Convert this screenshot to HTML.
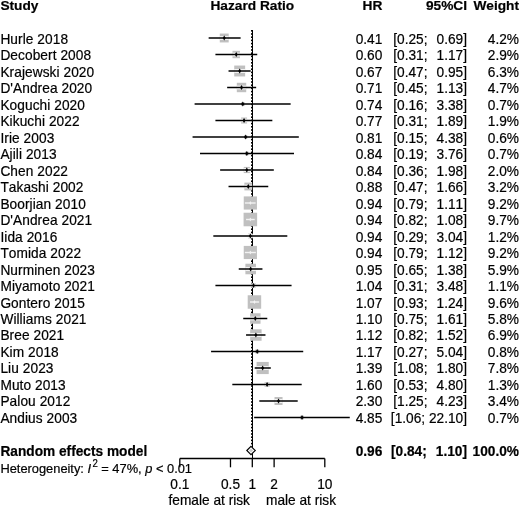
<!DOCTYPE html>
<html><head><meta charset="utf-8"><style>
html,body{margin:0;padding:0;background:#fff;overflow:hidden;}
svg{display:block;will-change:transform;}
text{stroke:#000;stroke-width:0.2px;font-family:"Liberation Sans",sans-serif;font-size:13.7px;fill:#000;white-space:pre;font-kerning:none;font-feature-settings:"kern" 0,"liga" 0;}
.b{font-weight:bold;}
</style></head><body>
<svg width="520" height="506" viewBox="0 0 520 506">
<text class="b" transform="translate(0.40 10.10) scale(1 1.0)">Study</text>
<text class="b" text-anchor="middle" transform="translate(252.30 10.10) scale(1 1.0)">Hazard Ratio</text>
<text class="b" text-anchor="end" transform="translate(382.30 10.10) scale(1 1.0)">HR</text>
<text class="b" text-anchor="end" transform="translate(467.00 10.10) scale(1 1.0)">95%CI</text>
<text class="b" text-anchor="end" transform="translate(519.00 10.10) scale(1 1.0)">Weight</text>
<line x1="252.5" y1="30.0" x2="252.5" y2="458.5" stroke="#000" stroke-width="1"/>
<line x1="251.5" y1="30.0" x2="251.5" y2="446" stroke="#000" stroke-width="1" stroke-dasharray="1.6 1.6"/>
<text transform="translate(0.40 44.00) scale(1 1.06)" letter-spacing="0.07">Hurle 2018</text>
<rect x="219.77" y="33.54" width="8.91" height="8.91" fill="#c0c0c0"/>
<rect x="219.77" y="36.20" width="8.91" height="3.6" fill="#fff"/>
<line x1="208.65" y1="38.0" x2="240.62" y2="38.0" stroke="#000" stroke-width="1.5"/>
<path d="M224.23 35.50 L225.73 38.0 L224.23 40.50 L222.73 38.0 Z" fill="#000"/>
<text text-anchor="end" transform="translate(382.30 44.00) scale(1 1.06)">0.41</text>
<text text-anchor="end" transform="translate(467.00 44.00) scale(1 1.06)">[0.25;  <tspan dx="1.4">0.69]</tspan></text>
<text text-anchor="end" transform="translate(519.00 44.00) scale(1 1.06)">4.2%</text>
<text transform="translate(0.40 60.47) scale(1 1.06)" letter-spacing="0.07">Decobert 2008</text>
<rect x="232.51" y="50.80" width="7.41" height="7.41" fill="#c0c0c0"/>
<rect x="232.51" y="52.70" width="7.41" height="3.6" fill="#fff"/>
<line x1="215.42" y1="54.5" x2="257.24" y2="54.5" stroke="#000" stroke-width="1.5"/>
<path d="M236.22 52.00 L237.72 54.5 L236.22 57.00 L234.72 54.5 Z" fill="#000"/>
<text text-anchor="end" transform="translate(382.30 60.47) scale(1 1.06)">0.60</text>
<text text-anchor="end" transform="translate(467.00 60.47) scale(1 1.06)">[0.31;  <tspan dx="1.4">1.17]</tspan></text>
<text text-anchor="end" transform="translate(519.00 60.47) scale(1 1.06)">2.9%</text>
<text transform="translate(0.40 76.94) scale(1 1.06)" letter-spacing="0.07">Krajewski 2020</text>
<rect x="234.23" y="65.54" width="10.92" height="10.92" fill="#c0c0c0"/>
<rect x="234.23" y="69.20" width="10.92" height="3.6" fill="#fff"/>
<line x1="228.53" y1="71.0" x2="250.68" y2="71.0" stroke="#000" stroke-width="1.5"/>
<path d="M239.69 68.50 L241.19 71.0 L239.69 73.50 L238.19 71.0 Z" fill="#000"/>
<text text-anchor="end" transform="translate(382.30 76.94) scale(1 1.06)">0.67</text>
<text text-anchor="end" transform="translate(467.00 76.94) scale(1 1.06)">[0.47;  <tspan dx="1.4">0.95]</tspan></text>
<text text-anchor="end" transform="translate(519.00 76.94) scale(1 1.06)">6.3%</text>
<text transform="translate(0.40 93.41) scale(1 1.06)" letter-spacing="0.07">D&#39;Andrea 2020</text>
<rect x="236.80" y="82.78" width="9.43" height="9.43" fill="#c0c0c0"/>
<rect x="236.80" y="85.70" width="9.43" height="3.6" fill="#fff"/>
<line x1="227.16" y1="87.5" x2="256.15" y2="87.5" stroke="#000" stroke-width="1.5"/>
<path d="M241.52 85.00 L243.02 87.5 L241.52 90.00 L240.02 87.5 Z" fill="#000"/>
<text text-anchor="end" transform="translate(382.30 93.41) scale(1 1.06)">0.71</text>
<text text-anchor="end" transform="translate(467.00 93.41) scale(1 1.06)">[0.45;  <tspan dx="1.4">1.13]</tspan></text>
<text text-anchor="end" transform="translate(519.00 93.41) scale(1 1.06)">4.7%</text>
<text transform="translate(0.40 109.88) scale(1 1.06)" letter-spacing="0.07">Koguchi 2020</text>
<rect x="241.00" y="102.18" width="3.64" height="3.64" fill="#c0c0c0"/>
<line x1="194.60" y1="104.0" x2="290.65" y2="104.0" stroke="#000" stroke-width="1.5"/>
<path d="M242.82 101.50 L244.32 104.0 L242.82 106.50 L241.32 104.0 Z" fill="#000"/>
<text text-anchor="end" transform="translate(382.30 109.88) scale(1 1.06)">0.74</text>
<text text-anchor="end" transform="translate(467.00 109.88) scale(1 1.06)">[0.16;  <tspan dx="1.4">3.38]</tspan></text>
<text text-anchor="end" transform="translate(519.00 109.88) scale(1 1.06)">0.7%</text>
<text transform="translate(0.40 126.35) scale(1 1.06)" letter-spacing="0.07">Kikuchi 2022</text>
<rect x="241.07" y="117.50" width="6.00" height="6.00" fill="#c0c0c0"/>
<rect x="241.07" y="118.70" width="6.00" height="3.6" fill="#fff"/>
<line x1="215.42" y1="120.5" x2="272.34" y2="120.5" stroke="#000" stroke-width="1.5"/>
<path d="M244.07 118.00 L245.57 120.5 L244.07 123.00 L242.57 120.5 Z" fill="#000"/>
<text text-anchor="end" transform="translate(382.30 126.35) scale(1 1.06)">0.77</text>
<text text-anchor="end" transform="translate(467.00 126.35) scale(1 1.06)">[0.31;  <tspan dx="1.4">1.89]</tspan></text>
<text text-anchor="end" transform="translate(519.00 126.35) scale(1 1.06)">1.9%</text>
<text transform="translate(0.40 142.82) scale(1 1.06)" letter-spacing="0.07">Irie 2003</text>
<rect x="243.98" y="135.32" width="3.37" height="3.37" fill="#c0c0c0"/>
<line x1="192.57" y1="137.0" x2="298.81" y2="137.0" stroke="#000" stroke-width="1.5"/>
<path d="M245.67 134.50 L247.17 137.0 L245.67 139.50 L244.17 137.0 Z" fill="#000"/>
<text text-anchor="end" transform="translate(382.30 142.82) scale(1 1.06)">0.81</text>
<text text-anchor="end" transform="translate(467.00 142.82) scale(1 1.06)">[0.15;  <tspan dx="1.4">4.38]</tspan></text>
<text text-anchor="end" transform="translate(519.00 142.82) scale(1 1.06)">0.6%</text>
<text transform="translate(0.40 159.29) scale(1 1.06)" letter-spacing="0.07">Ajili 2013</text>
<rect x="244.99" y="151.68" width="3.64" height="3.64" fill="#c0c0c0"/>
<line x1="200.01" y1="153.5" x2="294.00" y2="153.5" stroke="#000" stroke-width="1.5"/>
<path d="M246.81 151.00 L248.31 153.5 L246.81 156.00 L245.31 153.5 Z" fill="#000"/>
<text text-anchor="end" transform="translate(382.30 159.29) scale(1 1.06)">0.84</text>
<text text-anchor="end" transform="translate(467.00 159.29) scale(1 1.06)">[0.19;  <tspan dx="1.4">3.76]</tspan></text>
<text text-anchor="end" transform="translate(519.00 159.29) scale(1 1.06)">0.7%</text>
<text transform="translate(0.40 175.76) scale(1 1.06)" letter-spacing="0.07">Chen 2022</text>
<rect x="243.73" y="166.92" width="6.15" height="6.15" fill="#c0c0c0"/>
<rect x="243.73" y="168.20" width="6.15" height="3.6" fill="#fff"/>
<line x1="220.13" y1="170.0" x2="273.81" y2="170.0" stroke="#000" stroke-width="1.5"/>
<path d="M246.81 167.50 L248.31 170.0 L246.81 172.50 L245.31 170.0 Z" fill="#000"/>
<text text-anchor="end" transform="translate(382.30 175.76) scale(1 1.06)">0.84</text>
<text text-anchor="end" transform="translate(467.00 175.76) scale(1 1.06)">[0.36;  <tspan dx="1.4">1.98]</tspan></text>
<text text-anchor="end" transform="translate(519.00 175.76) scale(1 1.06)">2.0%</text>
<text transform="translate(0.40 192.23) scale(1 1.06)" letter-spacing="0.07">Takashi 2002</text>
<rect x="244.38" y="182.61" width="7.78" height="7.78" fill="#c0c0c0"/>
<rect x="244.38" y="184.70" width="7.78" height="3.6" fill="#fff"/>
<line x1="228.53" y1="186.5" x2="268.26" y2="186.5" stroke="#000" stroke-width="1.5"/>
<path d="M248.27 184.00 L249.77 186.5 L248.27 189.00 L246.77 186.5 Z" fill="#000"/>
<text text-anchor="end" transform="translate(382.30 192.23) scale(1 1.06)">0.88</text>
<text text-anchor="end" transform="translate(467.00 192.23) scale(1 1.06)">[0.47;  <tspan dx="1.4">1.66]</tspan></text>
<text text-anchor="end" transform="translate(519.00 192.23) scale(1 1.06)">3.2%</text>
<text transform="translate(0.40 208.70) scale(1 1.06)" letter-spacing="0.07">Boorjian 2010</text>
<rect x="243.75" y="196.40" width="13.19" height="13.19" fill="#c0c0c0"/>
<line x1="244.88" y1="203.0" x2="255.59" y2="203.0" stroke="#f2f2f2" stroke-width="1.4"/>
<path d="M250.35 201.00 L251.45 203.0 L250.35 205.00 L249.25 203.0 Z" fill="#f2f2f2"/>
<text text-anchor="end" transform="translate(382.30 208.70) scale(1 1.06)">0.94</text>
<text text-anchor="end" transform="translate(467.00 208.70) scale(1 1.06)">[0.79;  <tspan dx="1.4">1.11]</tspan></text>
<text text-anchor="end" transform="translate(519.00 208.70) scale(1 1.06)">9.2%</text>
<text transform="translate(0.40 225.17) scale(1 1.06)" letter-spacing="0.07">D&#39;Andrea 2021</text>
<rect x="243.58" y="212.73" width="13.55" height="13.55" fill="#c0c0c0"/>
<line x1="246.05" y1="219.5" x2="254.72" y2="219.5" stroke="#f2f2f2" stroke-width="1.4"/>
<path d="M250.35 217.50 L251.45 219.5 L250.35 221.50 L249.25 219.5 Z" fill="#f2f2f2"/>
<text text-anchor="end" transform="translate(382.30 225.17) scale(1 1.06)">0.94</text>
<text text-anchor="end" transform="translate(467.00 225.17) scale(1 1.06)">[0.82;  <tspan dx="1.4">1.08]</tspan></text>
<text text-anchor="end" transform="translate(519.00 225.17) scale(1 1.06)">9.7%</text>
<text transform="translate(0.40 241.64) scale(1 1.06)" letter-spacing="0.07">Iida 2016</text>
<rect x="247.97" y="233.62" width="4.77" height="4.77" fill="#c0c0c0"/>
<rect x="247.97" y="234.20" width="4.77" height="3.6" fill="#fff"/>
<line x1="213.32" y1="236.0" x2="287.31" y2="236.0" stroke="#000" stroke-width="1.5"/>
<path d="M250.35 233.50 L251.85 236.0 L250.35 238.50 L248.85 236.0 Z" fill="#000"/>
<text text-anchor="end" transform="translate(382.30 241.64) scale(1 1.06)">0.94</text>
<text text-anchor="end" transform="translate(467.00 241.64) scale(1 1.06)">[0.29;  <tspan dx="1.4">3.04]</tspan></text>
<text text-anchor="end" transform="translate(519.00 241.64) scale(1 1.06)">1.2%</text>
<text transform="translate(0.40 258.11) scale(1 1.06)" letter-spacing="0.07">Tomida 2022</text>
<rect x="243.75" y="245.90" width="13.19" height="13.19" fill="#c0c0c0"/>
<line x1="244.88" y1="252.5" x2="255.87" y2="252.5" stroke="#f2f2f2" stroke-width="1.4"/>
<path d="M250.35 250.50 L251.45 252.5 L250.35 254.50 L249.25 252.5 Z" fill="#f2f2f2"/>
<text text-anchor="end" transform="translate(382.30 258.11) scale(1 1.06)">0.94</text>
<text text-anchor="end" transform="translate(467.00 258.11) scale(1 1.06)">[0.79;  <tspan dx="1.4">1.12]</tspan></text>
<text text-anchor="end" transform="translate(519.00 258.11) scale(1 1.06)">9.2%</text>
<text transform="translate(0.40 274.58) scale(1 1.06)" letter-spacing="0.07">Nurminen 2023</text>
<rect x="245.40" y="263.72" width="10.57" height="10.57" fill="#c0c0c0"/>
<rect x="245.40" y="267.20" width="10.57" height="3.6" fill="#fff"/>
<line x1="238.74" y1="269.0" x2="262.44" y2="269.0" stroke="#000" stroke-width="1.5"/>
<path d="M250.68 266.50 L252.18 269.0 L250.68 271.50 L249.18 269.0 Z" fill="#000"/>
<text text-anchor="end" transform="translate(382.30 274.58) scale(1 1.06)">0.95</text>
<text text-anchor="end" transform="translate(467.00 274.58) scale(1 1.06)">[0.65;  <tspan dx="1.4">1.38]</tspan></text>
<text text-anchor="end" transform="translate(519.00 274.58) scale(1 1.06)">5.9%</text>
<text transform="translate(0.40 291.05) scale(1 1.06)" letter-spacing="0.07">Miyamoto 2021</text>
<rect x="251.25" y="283.22" width="4.56" height="4.56" fill="#c0c0c0"/>
<rect x="251.25" y="283.70" width="4.56" height="3.6" fill="#fff"/>
<line x1="215.42" y1="285.5" x2="291.56" y2="285.5" stroke="#000" stroke-width="1.5"/>
<path d="M253.53 283.00 L255.03 285.5 L253.53 288.00 L252.03 285.5 Z" fill="#000"/>
<text text-anchor="end" transform="translate(382.30 291.05) scale(1 1.06)">1.04</text>
<text text-anchor="end" transform="translate(467.00 291.05) scale(1 1.06)">[0.31;  <tspan dx="1.4">3.48]</tspan></text>
<text text-anchor="end" transform="translate(519.00 291.05) scale(1 1.06)">1.1%</text>
<text transform="translate(0.40 307.52) scale(1 1.06)" letter-spacing="0.07">Gontero 2015</text>
<rect x="247.69" y="295.26" width="13.48" height="13.48" fill="#c0c0c0"/>
<line x1="250.02" y1="302.0" x2="259.07" y2="302.0" stroke="#f2f2f2" stroke-width="1.4"/>
<path d="M254.43 300.00 L255.53 302.0 L254.43 304.00 L253.33 302.0 Z" fill="#f2f2f2"/>
<text text-anchor="end" transform="translate(382.30 307.52) scale(1 1.06)">1.07</text>
<text text-anchor="end" transform="translate(467.00 307.52) scale(1 1.06)">[0.93;  <tspan dx="1.4">1.24]</tspan></text>
<text text-anchor="end" transform="translate(519.00 307.52) scale(1 1.06)">9.6%</text>
<text transform="translate(0.40 323.99) scale(1 1.06)" letter-spacing="0.07">Williams 2021</text>
<rect x="250.06" y="313.26" width="10.48" height="10.48" fill="#c0c0c0"/>
<rect x="250.06" y="316.70" width="10.48" height="3.6" fill="#fff"/>
<line x1="243.24" y1="318.5" x2="267.29" y2="318.5" stroke="#000" stroke-width="1.5"/>
<path d="M255.30 316.00 L256.80 318.5 L255.30 321.00 L253.80 318.5 Z" fill="#000"/>
<text text-anchor="end" transform="translate(382.30 323.99) scale(1 1.06)">1.10</text>
<text text-anchor="end" transform="translate(467.00 323.99) scale(1 1.06)">[0.75;  <tspan dx="1.4">1.61]</tspan></text>
<text text-anchor="end" transform="translate(519.00 323.99) scale(1 1.06)">5.8%</text>
<text transform="translate(0.40 340.46) scale(1 1.06)" letter-spacing="0.07">Bree 2021</text>
<rect x="250.16" y="329.29" width="11.43" height="11.43" fill="#c0c0c0"/>
<rect x="250.16" y="333.20" width="11.43" height="3.6" fill="#fff"/>
<line x1="246.05" y1="335.0" x2="265.48" y2="335.0" stroke="#000" stroke-width="1.5"/>
<path d="M255.87 332.50 L257.37 335.0 L255.87 337.50 L254.37 335.0 Z" fill="#000"/>
<text text-anchor="end" transform="translate(382.30 340.46) scale(1 1.06)">1.12</text>
<text text-anchor="end" transform="translate(467.00 340.46) scale(1 1.06)">[0.82;  <tspan dx="1.4">1.52]</tspan></text>
<text text-anchor="end" transform="translate(519.00 340.46) scale(1 1.06)">6.9%</text>
<text transform="translate(0.40 356.93) scale(1 1.06)" letter-spacing="0.07">Kim 2018</text>
<rect x="255.30" y="349.55" width="3.89" height="3.89" fill="#c0c0c0"/>
<line x1="211.07" y1="351.5" x2="303.23" y2="351.5" stroke="#000" stroke-width="1.5"/>
<path d="M257.24 349.00 L258.74 351.5 L257.24 354.00 L255.74 351.5 Z" fill="#000"/>
<text text-anchor="end" transform="translate(382.30 356.93) scale(1 1.06)">1.17</text>
<text text-anchor="end" transform="translate(467.00 356.93) scale(1 1.06)">[0.27;  <tspan dx="1.4">5.04]</tspan></text>
<text text-anchor="end" transform="translate(519.00 356.93) scale(1 1.06)">0.8%</text>
<text transform="translate(0.40 373.40) scale(1 1.06)" letter-spacing="0.07">Liu 2023</text>
<rect x="256.59" y="361.93" width="12.15" height="12.15" fill="#c0c0c0"/>
<rect x="256.59" y="366.20" width="12.15" height="3.6" fill="#fff"/>
<line x1="254.72" y1="368.0" x2="270.81" y2="368.0" stroke="#000" stroke-width="1.5"/>
<path d="M262.67 365.50 L264.17 368.0 L262.67 370.50 L261.17 368.0 Z" fill="#000"/>
<text text-anchor="end" transform="translate(382.30 373.40) scale(1 1.06)">1.39</text>
<text text-anchor="end" transform="translate(467.00 373.40) scale(1 1.06)">[1.08;  <tspan dx="1.4">1.80]</tspan></text>
<text text-anchor="end" transform="translate(519.00 373.40) scale(1 1.06)">7.8%</text>
<text transform="translate(0.40 389.87) scale(1 1.06)" letter-spacing="0.07">Muto 2013</text>
<rect x="264.62" y="382.02" width="4.96" height="4.96" fill="#c0c0c0"/>
<rect x="264.62" y="382.70" width="4.96" height="3.6" fill="#fff"/>
<line x1="232.31" y1="384.5" x2="301.69" y2="384.5" stroke="#000" stroke-width="1.5"/>
<path d="M267.10 382.00 L268.60 384.5 L267.10 387.00 L265.60 384.5 Z" fill="#000"/>
<text text-anchor="end" transform="translate(382.30 389.87) scale(1 1.06)">1.60</text>
<text text-anchor="end" transform="translate(467.00 389.87) scale(1 1.06)">[0.53;  <tspan dx="1.4">4.80]</tspan></text>
<text text-anchor="end" transform="translate(519.00 389.87) scale(1 1.06)">1.3%</text>
<text transform="translate(0.40 406.34) scale(1 1.06)" letter-spacing="0.07">Palou 2012</text>
<rect x="274.51" y="396.99" width="8.02" height="8.02" fill="#c0c0c0"/>
<rect x="274.51" y="399.20" width="8.02" height="3.6" fill="#fff"/>
<line x1="259.33" y1="401.0" x2="297.71" y2="401.0" stroke="#000" stroke-width="1.5"/>
<path d="M278.53 398.50 L280.03 401.0 L278.53 403.50 L277.03 401.0 Z" fill="#000"/>
<text text-anchor="end" transform="translate(382.30 406.34) scale(1 1.06)">2.30</text>
<text text-anchor="end" transform="translate(467.00 406.34) scale(1 1.06)">[1.25;  <tspan dx="1.4">4.23]</tspan></text>
<text text-anchor="end" transform="translate(519.00 406.34) scale(1 1.06)">3.4%</text>
<text transform="translate(0.40 422.81) scale(1 1.06)" letter-spacing="0.07">Andius 2003</text>
<rect x="300.20" y="415.68" width="3.64" height="3.64" fill="#c0c0c0"/>
<line x1="254.13" y1="417.5" x2="349.77" y2="417.5" stroke="#000" stroke-width="1.5"/>
<path d="M302.02 415.00 L303.52 417.5 L302.02 420.00 L300.52 417.5 Z" fill="#000"/>
<text text-anchor="end" transform="translate(382.30 422.81) scale(1 1.06)">4.85</text>
<text text-anchor="end" transform="translate(467.00 422.81) scale(1 1.06)">[1.06; 22.10]</text>
<text text-anchor="end" transform="translate(519.00 422.81) scale(1 1.06)">0.7%</text>
<text class="b" transform="translate(0.40 455.90) scale(1 1.06)">Random effects model</text>
<path d="M246.81 450.5 L251.01 446.3 L255.30 450.5 L251.01 454.7 Z" fill="#fff" stroke="#000" stroke-width="1.1"/>
<path d="M249.01 450.5 L251.01 448.5 L253.01 450.5 L251.01 452.5 Z" fill="#c8c8c8"/>
<text class="b" text-anchor="end" transform="translate(382.30 455.90) scale(1 1.06)">0.96</text>
<text class="b" text-anchor="end" transform="translate(467.00 455.90) scale(1 1.06)">[0.84;  <tspan dx="1.4">1.10]</tspan></text>
<text class="b" text-anchor="end" transform="translate(519.00 455.90) scale(1 1.06)">100.0%</text>
<text transform="translate(0.40 472.80) scale(1 1.06)" style="font-size:12.85px">Heterogeneity: <tspan font-style="italic">I</tspan><tspan dx="1.3" dy="-5.6" style="font-size:9.6px">2</tspan><tspan dy="5.6"> = 47%, </tspan><tspan font-style="italic">p</tspan> &lt; 0.01</text>
<line x1="179.8" y1="458.5" x2="324.8" y2="458.5" stroke="#000" stroke-width="1.3"/>
<line x1="179.80" y1="458.5" x2="179.80" y2="467.3" stroke="#000" stroke-width="1.3"/>
<text text-anchor="middle" transform="translate(179.80 488.80) scale(1 1.06)">0.1</text>
<line x1="230.48" y1="458.5" x2="230.48" y2="467.3" stroke="#000" stroke-width="1.3"/>
<text text-anchor="middle" transform="translate(230.48 488.80) scale(1 1.06)">0.5</text>
<line x1="252.30" y1="458.5" x2="252.30" y2="467.3" stroke="#000" stroke-width="1.3"/>
<text text-anchor="middle" transform="translate(252.30 488.80) scale(1 1.06)">1</text>
<line x1="274.12" y1="458.5" x2="274.12" y2="467.3" stroke="#000" stroke-width="1.3"/>
<text text-anchor="middle" transform="translate(274.12 488.80) scale(1 1.06)">2</text>
<line x1="324.80" y1="458.5" x2="324.80" y2="467.3" stroke="#000" stroke-width="1.3"/>
<text text-anchor="middle" transform="translate(324.80 488.80) scale(1 1.06)">10</text>
<text transform="translate(168.50 505.30) scale(1 1.06)">female at risk</text>
<text transform="translate(266.00 505.30) scale(1 1.06)">male at risk</text>
</svg></body></html>
